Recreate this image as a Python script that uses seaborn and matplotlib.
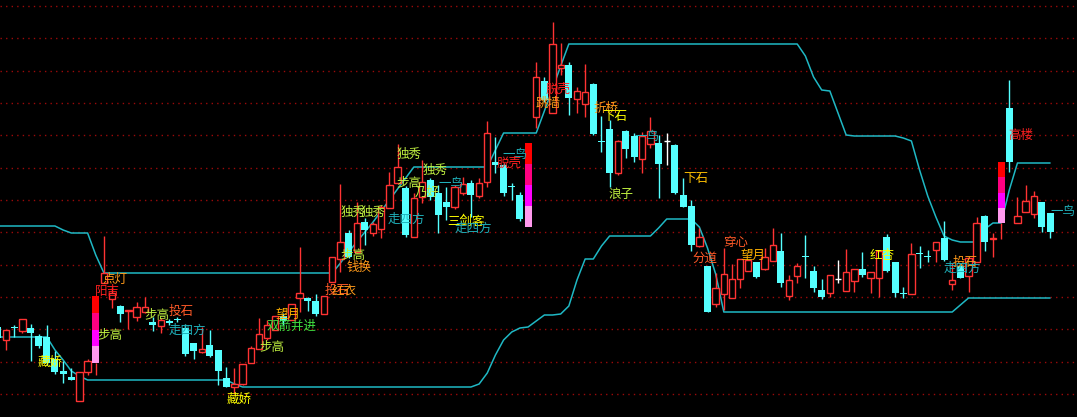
import numpy as np
import pandas as pd
import matplotlib
matplotlib.use("Agg")
import matplotlib.pyplot as plt
import seaborn as sns

# ---------------- data (price units) ----------------
opens = [93, 80, 93, 89, 92, 84, 83, 61, 49, 43,
         19, 48, 57, 137, 121, 114, 109, 103, 108, 98,
         94, 99, 101, 92, 77, 68, 75, 70, 42, 33,
         36, 57, 71, 82, 90, 104, 100, 122, 122, 119,
         106, 138, 161, 187, 168, 198, 187, 191, 212, 237,
         232, 183, 223, 240, 227, 218, 213, 227, 237, 224,
         238, 258, 255, 234, 225, 193, 303, 339, 307, 352,
         355, 321, 316, 336, 279, 291, 247, 289, 284, 261,
         276, 277, 279, 275, 225, 214, 174, 154, 116, 126,
         122, 141, 149, 158, 151, 159, 169, 124, 144, 164,
         149, 130, 127, 141, 129, 139, 151, 142, 142, 183,
         158, 127, 126, 167, 164, 170, 182, 136, 154, 144,
         158, 204, 181, 197, 312, 197, 208, 206, 218, 207]
highs = [95, 90, 95, 101, 96, 86, 95, 69, 59, 52,
         48, 61, 124, 184, 133, 115, 110, 118, 123, 103,
         102, 101, 103, 96, 77, 93, 90, 70, 53, 52,
         56, 74, 102, 100, 104, 107, 116, 173, 123, 126,
         124, 163, 236, 190, 218, 202, 198, 215, 248, 276,
         234, 227, 260, 242, 235, 233, 235, 243, 240, 242,
         299, 283, 257, 237, 228, 277, 358, 343, 398, 377,
         358, 333, 356, 337, 304, 300, 280, 290, 287, 288,
         303, 285, 287, 276, 242, 220, 192, 154, 147, 172,
         156, 161, 160, 158, 172, 192, 187, 145, 157, 185,
         154, 141, 145, 160, 171, 151, 168, 148, 170, 186,
         158, 133, 177, 174, 170, 178, 199, 157, 154, 162,
         203, 205, 187, 258, 340, 223, 235, 229, 218, 207]
lows = [80, 70, 83, 87, 59, 72, 55, 46, 37, 40,
        19, 45, 45, 137, 112, 98, 91, 99, 107, 89,
        87, 95, 98, 64, 61, 67, 63, 35, 33, 27,
        35, 57, 71, 80, 90, 95, 100, 108, 109, 104,
        106, 138, 148, 162, 167, 175, 184, 182, 212, 237,
        183, 183, 217, 220, 187, 200, 211, 225, 203, 222,
        233, 247, 224, 220, 199, 193, 292, 318, 307, 345,
        305, 307, 303, 285, 268, 233, 245, 262, 258, 247,
        272, 222, 255, 226, 213, 169, 173, 108, 113, 110,
        122, 132, 149, 142, 150, 159, 133, 120, 137, 142,
        128, 121, 123, 137, 129, 128, 143, 127, 123, 148,
        123, 122, 126, 152, 158, 158, 159, 130, 142, 128,
        158, 169, 163, 181, 248, 197, 208, 202, 188, 182]
closes = [82, 90, 92, 101, 87, 74, 57, 48, 46, 40,
          48, 59, 124, 147, 127, 106, 110, 113, 113, 95,
          100, 97, 100, 66, 69, 71, 64, 49, 33, 36,
          56, 72, 86, 95, 104, 99, 116, 127, 119, 106,
          124, 163, 178, 163, 197, 190, 196, 213, 235, 253,
          185, 222, 238, 223, 205, 213, 233, 236, 225, 237,
          287, 255, 227, 233, 201, 277, 343, 320, 376, 355,
          322, 329, 328, 286, 278, 247, 279, 271, 263, 284,
          289, 256, 279, 227, 213, 175, 183, 108, 132, 146,
          141, 161, 160, 143, 163, 175, 137, 140, 154, 163,
          132, 123, 145, 141, 148, 151, 145, 148, 169, 149,
          127, 126, 166, 166, 163, 178, 160, 140, 142, 162,
          197, 178, 182, 258, 258, 204, 219, 224, 193, 188]
upper = [194, 194, 194, 194, 194, 194, 194, 194, 190, 187,
         187, 187, 165, 147, 147, 147, 147, 147, 147, 147,
         147, 147, 147, 147, 147, 147, 147, 147, 147, 147,
         147, 147, 147, 147, 147, 147, 147, 147, 147, 147,
         147, 147, 157, 168, 178, 188, 198, 209, 220, 231,
         242, 253, 253, 253, 253, 253, 253, 253, 253, 253,
         253, 270, 287, 287, 287, 287, 287, 309, 331, 354,
         376, 376, 376, 376, 376, 376, 376, 376, 376, 376,
         376, 376, 376, 376, 376, 376, 376, 376, 376, 376,
         376, 376, 376, 376, 376, 376, 376, 376, 376, 364,
         343, 330, 329, 307, 285, 284, 284, 284, 284, 284,
         284, 282, 279, 250, 224, 203, 184, 180, 178, 178,
         178, 191, 197, 197, 230, 257, 257, 257, 257, 257]
lower = [83, 83, 83, 83, 83, 83, 83, 70, 60, 49,
         44, 40, 40, 40, 40, 40, 40, 40, 40, 40,
         40, 40, 40, 40, 40, 40, 40, 40, 40, 36,
         33, 33, 33, 33, 33, 33, 33, 33, 33, 33,
         33, 33, 33, 33, 33, 33, 33, 33, 33, 33,
         33, 33, 33, 33, 33, 33, 33, 33, 33, 36,
         47, 65, 80, 88, 92, 93, 99, 105, 105, 106,
         114, 140, 161, 161, 174, 184, 184, 184, 184, 184,
         184, 192, 201, 201, 201, 201, 193, 172, 146, 108,
         108, 108, 108, 108, 108, 108, 108, 108, 108, 108,
         108, 108, 108, 108, 108, 108, 108, 108, 108, 108,
         108, 108, 108, 108, 108, 108, 108, 108, 115, 122,
         122, 122, 122, 122, 122, 122, 122, 122, 122, 122]
grid_levels = [26, 58.4, 90.7, 123, 155.4, 187.7, 220, 252.4, 284.7, 317, 349.4, 381.7, 414]
gradient_bars = [12, 65, 123]
gradient_colors = ["#FF99EE", "#FF00FF", "#FF0080", "#FF0000"]  # bottom -> top

YG = "#C0F040"; YE = "#FFFF00"; OR = "#FF9A1A"; ORR = "#FF5A28"; RD = "#FF2020"
TL = "#1FB0BA"; GR = "#40E040"; OY = "#FFB000"
label_text = ["藏娇", "步高", "阳吉", "点灯", "步高", "投石", "走四方", "藏娇", "步高", "双箭并进",
              "望月", "投石", "红衣", "步高", "钱换", "独秀", "独秀", "独秀", "独秀", "步高",
              "乃好", "走四方", "一鸟", "三剑客", "走四方", "脱壳", "一鸟", "脱壳", "跳墙", "折桥",
              "下石", "一鸟", "浪子", "下石", "分道", "穿心", "望月", "红杏", "投石", "走四方",
              "高楼", "一鸟"]
label_x = [4.9, 12.2, 11.9, 12.8, 17.9, 20.9, 20.9, 28.0, 32.0, 33.0,
           34.0, 40.1, 40.85, 42.0, 42.8, 42.0, 44.4, 48.9, 52.0, 48.9,
           51.1, 47.8, 54.0, 55.1, 56.0, 61.2, 61.9, 67.1, 65.9, 73.0,
           74.1, 78.1, 74.8, 84.0, 85.1, 89.0, 91.0, 106.9, 117.0, 115.9,
           123.9, 129.0]
label_y = [58, 84, 129, 141, 104, 109, 90, 21, 72, 94,
           106, 130, 128, 164, 153, 208, 208, 266, 250, 237,
           228, 201, 237, 199, 192, 257, 266, 331, 317, 312,
           304, 284, 226, 242, 162, 178, 165, 164, 158, 152,
           285, 209]
label_color = [YE, YG, RD, OR, YG, ORR, TL, YE, YG, GR,
               OY, ORR, OR, YG, OR, YG, YG, YG, YG, YG,
               YG, TL, TL, YE, TL, RD, TL, RD, OR, OR,
               YE, TL, YG, "#FFC000", ORR, ORR, OY, YE, OR, TL,
               RD, TL]

UP = "#FF3333"; DOWN = "#55FFFF"; FLAT = "#FFFFFF"; CH = "#1FB8C4"; GRID = "#9B0A0A"

# ---------------- drawing ----------------
sns.set_style("dark")
plt.rcParams['font.family'] = ['Noto Sans CJK SC', 'DejaVu Sans']

df = pd.DataFrame({"k": np.arange(len(opens)), "open": opens, "high": highs,
                   "low": lows, "close": closes, "upper": upper, "lower": lower})

fig = plt.figure(figsize=(10.77, 4.17), dpi=100, facecolor="black")
ax = fig.add_axes([0, 0, 1, 1])
ax.set_facecolor("black")

for g in grid_levels:
    ax.axhline(g, color=GRID, lw=1.0, ls=(0, (1, 3)), zorder=0)

sns.lineplot(data=df, x="k", y="upper", ax=ax, color=CH, lw=1.1, zorder=1, legend=False)
sns.lineplot(data=df, x="k", y="lower", ax=ax, color=CH, lw=1.1, zorder=1, legend=False)

W = 0.78
for r in df.itertuples():
    o, h, l, c, k = r.open, r.high, r.low, r.close, r.k
    if k in gradient_bars:
        lo_b, hi_b = min(o, c), max(o, c)
        ax.vlines(k, l, lo_b, color=UP, lw=1.0, zorder=2)
        ax.vlines(k, hi_b, h, color=UP, lw=1.0, zorder=2)
        seg = (hi_b - lo_b) / 4.0
        for j, col in enumerate(gradient_colors):
            ax.bar(k, seg, bottom=lo_b + j * seg, width=W + 0.08, color=col, lw=0, zorder=3)
    elif c > o:
        ax.vlines(k, l, o, color=UP, lw=1.0, zorder=2)
        ax.vlines(k, c, h, color=UP, lw=1.0, zorder=2)
        ax.bar(k, c - o, bottom=o, width=W, facecolor="black", edgecolor=UP, lw=1.0, zorder=3)
    elif c < o:
        ax.vlines(k, l, h, color=DOWN, lw=1.0, zorder=2)
        ax.bar(k, o - c, bottom=c, width=W + 0.08, color=DOWN, lw=0, zorder=3)
    else:
        ax.vlines(k, l, h, color=FLAT, lw=1.0, zorder=2)
        ax.hlines(o, k - W / 2, k + W / 2, color=FLAT, lw=1.0, zorder=3)

for t, x, y, col in zip(label_text, label_x, label_y, label_color):
    ax.text(x, y, t, color=col, fontsize=9, ha="left", va="center", zorder=5)

ax.set_xlim(0.26, 132.3)
ax.set_ylim(3, 420)
ax.axis("off")
fig.savefig("out.png", dpi=100, facecolor="black")
